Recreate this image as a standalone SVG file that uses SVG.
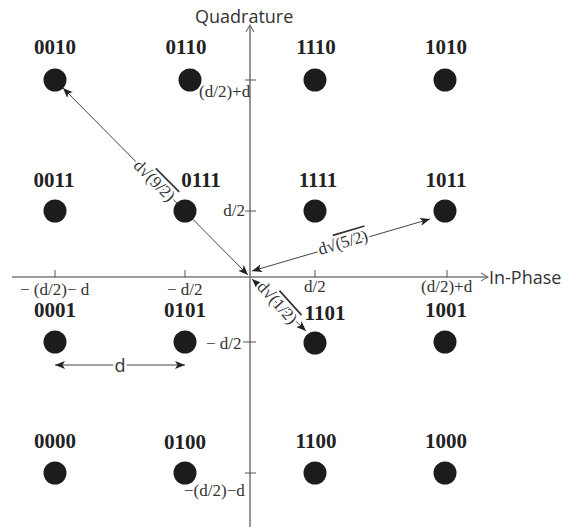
<svg xmlns="http://www.w3.org/2000/svg" width="571" height="527" viewBox="0 0 571 527">
<defs>
<marker id="ah" viewBox="0 0 10 8" refX="10" refY="4" markerWidth="10" markerHeight="8" markerUnits="userSpaceOnUse" orient="auto-start-reverse">
<path d="M0,0 L10,4 L0,8 L2.5,4 Z" fill="#222"/>
</marker>
<marker id="ax" viewBox="0 0 10 10" refX="9" refY="5" markerWidth="10" markerHeight="10" markerUnits="userSpaceOnUse" orient="auto">
<path d="M2,1 L9,5 L2,9" fill="none" stroke="#777" stroke-width="1.2"/>
</marker>
</defs>
<style>
.pt{fill:#1c1c1c}
.bl{font-family:"Liberation Serif","Times New Roman",serif;font-weight:bold;font-size:21px;fill:#222;text-anchor:middle}
.tk{font-family:"Liberation Serif","Times New Roman",serif;font-size:17px;fill:#333}
.sn{font-family:"Open Sans","Liberation Sans",sans-serif;font-size:18px;fill:#333}
.axis{stroke:#7a7a7a;stroke-width:1.6;fill:none}
.tick{stroke:#555;stroke-width:1;fill:none}
.con{stroke:#444;stroke-width:1;fill:none}
.lbl{font-family:"Liberation Serif","Times New Roman",serif;font-size:17px;fill:#333;text-anchor:middle;stroke:#fff;stroke-width:4;paint-order:stroke;stroke-linejoin:round}
.ov{text-decoration:overline}
</style>
<g id="axes">
<line class="axis" x1="12" y1="277" x2="488" y2="277" marker-end="url(#ax)"/>
<line class="axis" x1="250" y1="527" x2="250" y2="25" marker-end="url(#ax)"/>
<text class="sn" x="195" y="23">Quadrature</text>
<text class="sn" x="489" y="284">In-Phase</text>
<g id="ticks">
<line class="tick" x1="55" y1="270" x2="55" y2="277"/>
<line class="tick" x1="185" y1="270" x2="185" y2="277"/>
<line class="tick" x1="315" y1="270" x2="315" y2="277"/>
<line class="tick" x1="447" y1="270" x2="447" y2="277"/>
<line class="tick" x1="245" y1="80" x2="256" y2="80"/>
<line class="tick" x1="245" y1="211" x2="256" y2="211"/>
<line class="tick" x1="243" y1="342" x2="256" y2="342"/>
<line class="tick" x1="245" y1="473" x2="256" y2="473"/>
</g>
<text class="tk" x="199" y="97">(d/2)+d</text>
<text class="tk" x="245" y="216" text-anchor="end">d/2</text>
<text class="tk" x="206" y="349">− d/2</text>
<text class="tk" x="184" y="496">−(d/2)−d</text>
<text class="tk" x="20" y="295">− (d/2)− d</text>
<text class="tk" x="167" y="295">− d/2</text>
<text class="tk" x="304" y="292">d/2</text>
<text class="tk" x="421" y="292">(d/2)+d</text>
</g>
<g id="connectors">
<line class="con" x1="248" y1="275" x2="63" y2="88" marker-start="url(#ah)" marker-end="url(#ah)"/>
<line class="con" x1="252" y1="271" x2="430" y2="219" marker-start="url(#ah)" marker-end="url(#ah)"/>
<line class="con" x1="252" y1="279" x2="306" y2="331" marker-start="url(#ah)" marker-end="url(#ah)"/>
<line class="con" x1="55" y1="365" x2="185" y2="365" marker-start="url(#ah)" marker-end="url(#ah)"/>
</g>
<g id="n0010"><circle class="pt" cx="55" cy="80" r="11.5"/><text class="bl" x="55" y="54">0010</text></g>
<g id="n0110"><circle class="pt" cx="190" cy="80" r="11.5"/><text class="bl" x="186" y="54">0110</text></g>
<g id="n1110"><circle class="pt" cx="315" cy="80" r="11.5"/><text class="bl" x="316" y="54">1110</text></g>
<g id="n1010"><circle class="pt" cx="445" cy="80" r="11.5"/><text class="bl" x="446" y="54">1010</text></g>
<g id="n0011"><circle class="pt" cx="55" cy="211" r="11.5"/><text class="bl" x="54" y="187">0011</text></g>
<g id="n0111"><circle class="pt" cx="185" cy="211" r="11.5"/><text class="bl" x="201" y="187">0111</text></g>
<g id="n1111"><circle class="pt" cx="315" cy="211" r="11.5"/><text class="bl" x="318" y="187">1111</text></g>
<g id="n1011"><circle class="pt" cx="445" cy="211" r="11.5"/><text class="bl" x="446" y="187">1011</text></g>
<g id="n0001"><circle class="pt" cx="55" cy="342" r="11.5"/><text class="bl" x="55" y="317">0001</text></g>
<g id="n0101"><circle class="pt" cx="185" cy="342" r="11.5"/><text class="bl" x="185" y="317">0101</text></g>
<g id="n1101"><circle class="pt" cx="315" cy="343" r="11.5"/><text class="bl" x="325" y="320">1101</text></g>
<g id="n1001"><circle class="pt" cx="445" cy="342" r="11.5"/><text class="bl" x="446" y="317">1001</text></g>
<g id="n0000"><circle class="pt" cx="55" cy="473" r="11.5"/><text class="bl" x="55" y="448">0000</text></g>
<g id="n0100"><circle class="pt" cx="185" cy="473" r="11.5"/><text class="bl" x="185" y="449">0100</text></g>
<g id="n1100"><circle class="pt" cx="315" cy="473" r="11.5"/><text class="bl" x="316" y="448">1100</text></g>
<g id="n1000"><circle class="pt" cx="445" cy="473" r="11.5"/><text class="bl" x="446" y="448">1000</text></g>
<g id="labels">
<text class="lbl" transform="translate(154,181) rotate(45)" y="5">d√<tspan class="ov">(9/2)</tspan></text>
<text class="lbl" transform="translate(343,243) rotate(-16.5)" y="5">d√<tspan class="ov">(5/2)</tspan></text>
<text class="lbl" transform="translate(277,303) rotate(48)" y="5">d√<tspan class="ov">(1/2)</tspan></text>
<text class="sn" x="120" y="372" text-anchor="middle" stroke="#fff" stroke-width="5" paint-order="stroke">d</text>
</g>
</svg>
